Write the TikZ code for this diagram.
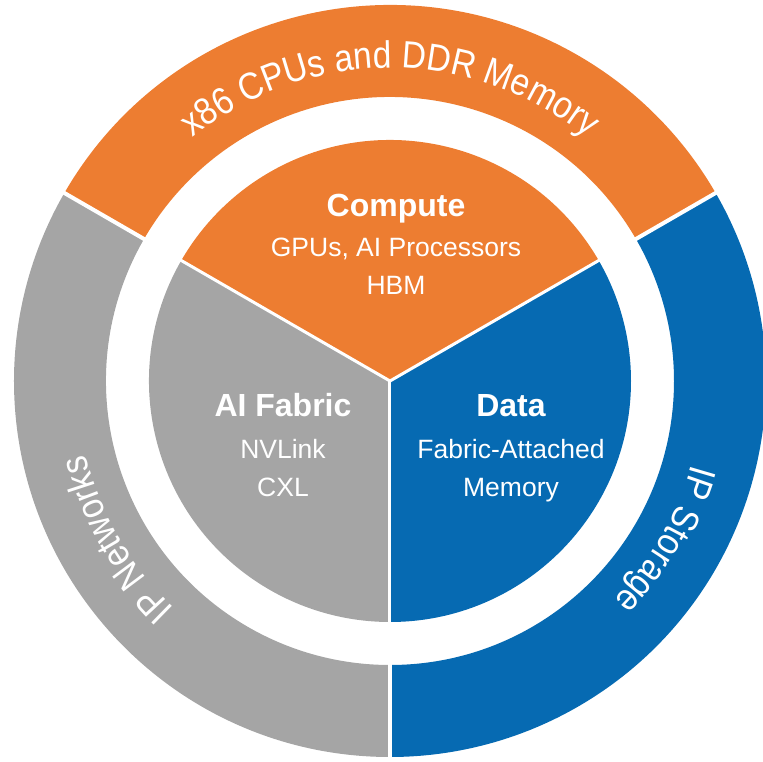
\documentclass[tikz,border=0pt]{standalone}
\usepackage{fontspec}
\setmainfont{Liberation Sans}
\newfontfamily\ringfamily[FakeStretch=0.88]{Liberation Sans}
\usetikzlibrary{decorations.text}

\definecolor{segorange}{HTML}{ED7D31}
\definecolor{seggray}{HTML}{A5A5A5}
\definecolor{segblue}{RGB}{6,106,178}

\newcommand{\ringfnt}{\ringfamily\fontsize{38}{41}\selectfont}
\newcommand{\headfnt}{\fontsize{32}{36}\selectfont\bfseries}
\newcommand{\itemfnt}{\fontsize{26.5}{30}\selectfont}

\tikzset{
  headtext/.style={text=white, anchor=base, inner sep=0pt, font=\headfnt},
  itemtext/.style={text=white, anchor=base, inner sep=0pt, font=\itemfnt},
  gapline/.style={draw=white, line width=4pt},
  pieline/.style={draw=white, line width=3pt},
  ringlabel/.style={decorate, decoration={text along path, text color=white,
      text align=center, text={|\ringfnt|#1}}}
}

\begin{document}
\begin{tikzpicture}[x=1pt, y=1pt]
  % page frame, centre of the wheel at the origin
  \useasboundingbox (-390,-381) rectangle (373,381);
  \clip (-390,-381) rectangle (373,381);

  \def\rin{284}
  \def\rout{376}
  \def\rpie{241}

  % outer ring segments
  \fill[segorange] (30:\rin) arc[start angle=30, end angle=150, radius=\rin]
      -- (150:\rout) arc[start angle=150, end angle=30, radius=\rout] -- cycle;
  \fill[seggray] (150:\rin) arc[start angle=150, end angle=270, radius=\rin]
      -- (270:\rout) arc[start angle=270, end angle=150, radius=\rout] -- cycle;
  \fill[segblue] (270:\rin) arc[start angle=270, end angle=390, radius=\rin]
      -- (390:\rout) arc[start angle=390, end angle=270, radius=\rout] -- cycle;

  % inner pie
  \fill[segorange] (0,0) -- (30:\rpie) arc[start angle=30, end angle=150, radius=\rpie] -- cycle;
  \fill[seggray] (0,0) -- (150:\rpie) arc[start angle=150, end angle=270, radius=\rpie] -- cycle;
  \fill[segblue] (0,0) -- (270:\rpie) arc[start angle=270, end angle=390, radius=\rpie] -- cycle;

  % white separators
  \foreach \a in {30,150,270} {
    \draw[pieline] (0,0) -- (\a:\rpie+2);
    \draw[gapline] (\a:\rin-4) -- (\a:\rout+6);
  }

  % ring labels, running clockwise with letter tops outward
  \path[ringlabel={x86 CPUs and DDR Memory}]
    (150:313) arc[start angle=150, end angle=30, radius=313];
  \path[ringlabel={IP Networks}]
    (260:313) arc[start angle=260, end angle=160, radius=313];
  \path[ringlabel={IP Storage}]
    (20:313) arc[start angle=20, end angle=-80, radius=313];

  % pie labels
  \node[headtext] (compute) at (6,164) {Compute};
  \node[itemtext] (gpus)    at (6,124) {GPUs, AI Processors};
  \node[itemtext] (hbm)     at (6,86)  {HBM};

  \node[headtext] (fabric)  at (-107,-36) {AI Fabric};
  \node[itemtext] (nvlink)  at (-107,-78) {NVLink};
  \node[itemtext] (cxl)     at (-107,-116) {CXL};

  \node[headtext] (data)    at (121,-36) {Data};
  \node[itemtext] (fam)     at (121,-78) {Fabric-Attached};
  \node[itemtext] (memory)  at (121,-116) {Memory};
\end{tikzpicture}
\end{document}
